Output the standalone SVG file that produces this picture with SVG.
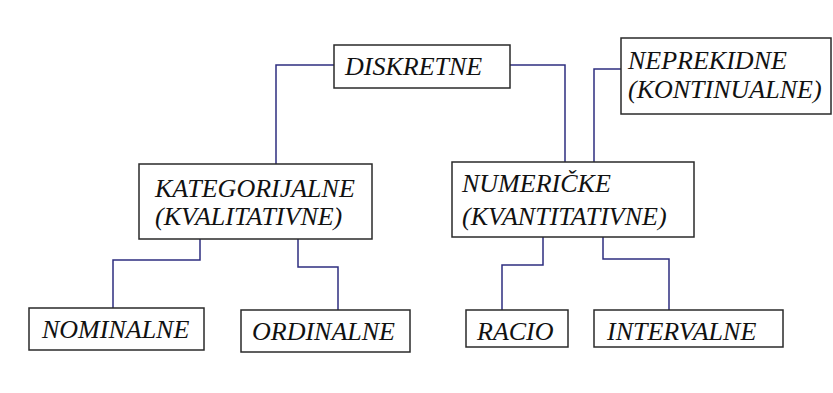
<svg xmlns="http://www.w3.org/2000/svg" width="833" height="393" viewBox="0 0 833 393">
<rect width="833" height="393" fill="#fff"/>
<g id="connectors" fill="none" stroke="#2e2e80" stroke-width="1.5">
<path d="M334,65 H276 V164"/>
<path d="M510,65 H565 V162"/>
<path d="M621,69 H594 V162"/>
<path d="M200,239 V260 H113 V308"/>
<path d="M298,239 V267 H338 V310"/>
<path d="M543,237 V265 H502 V310"/>
<path d="M603,237 V259 H669 V310"/>
</g>
<g id="diskretne"><rect fill="#fff" stroke="#2a2a2a" stroke-width="1.5" x="334" y="45" width="176" height="43"/><text font-family="Liberation Serif" font-style="italic" font-size="26" fill="#111" x="345" y="75">DISKRETNE</text></g>
<g id="neprekidne"><rect fill="#fff" stroke="#2a2a2a" stroke-width="1.5" x="621" y="38" width="210" height="76"/><text font-family="Liberation Serif" font-style="italic" font-size="26" fill="#111" x="628" y="69">NEPREKIDNE</text><text font-family="Liberation Serif" font-style="italic" font-size="26" fill="#111" x="628" y="98">(KONTINUALNE)</text></g>
<g id="kategorijalne"><rect fill="#fff" stroke="#2a2a2a" stroke-width="1.5" x="139" y="164" width="233" height="75"/><text font-family="Liberation Serif" font-style="italic" font-size="26" fill="#111" x="155" y="197">KATEGORIJALNE</text><text font-family="Liberation Serif" font-style="italic" font-size="26" fill="#111" x="155" y="225">(KVALITATIVNE)</text></g>
<g id="numericke"><rect fill="#fff" stroke="#2a2a2a" stroke-width="1.5" x="452" y="162" width="242" height="75"/><text font-family="Liberation Serif" font-style="italic" font-size="26" fill="#111" x="462" y="192">NUMERI&#268;KE</text><text font-family="Liberation Serif" font-style="italic" font-size="26" fill="#111" x="462" y="225">(KVANTITATIVNE)</text></g>
<g id="nominalne"><rect fill="#fff" stroke="#2a2a2a" stroke-width="1.5" x="29" y="308" width="175" height="42"/><text font-family="Liberation Serif" font-style="italic" font-size="26" fill="#111" x="42" y="338">NOMINALNE</text></g>
<g id="ordinalne"><rect fill="#fff" stroke="#2a2a2a" stroke-width="1.5" x="241" y="310" width="169" height="42"/><text font-family="Liberation Serif" font-style="italic" font-size="26" fill="#111" x="252" y="340">ORDINALNE</text></g>
<g id="racio"><rect fill="#fff" stroke="#2a2a2a" stroke-width="1.5" x="466" y="310" width="102" height="37"/><text font-family="Liberation Serif" font-style="italic" font-size="26" fill="#111" x="477" y="340">RACIO</text></g>
<g id="intervalne"><rect fill="#fff" stroke="#2a2a2a" stroke-width="1.5" x="594" y="310" width="189" height="37"/><text font-family="Liberation Serif" font-style="italic" font-size="26" fill="#111" x="607" y="340">INTERVALNE</text></g>
</svg>
